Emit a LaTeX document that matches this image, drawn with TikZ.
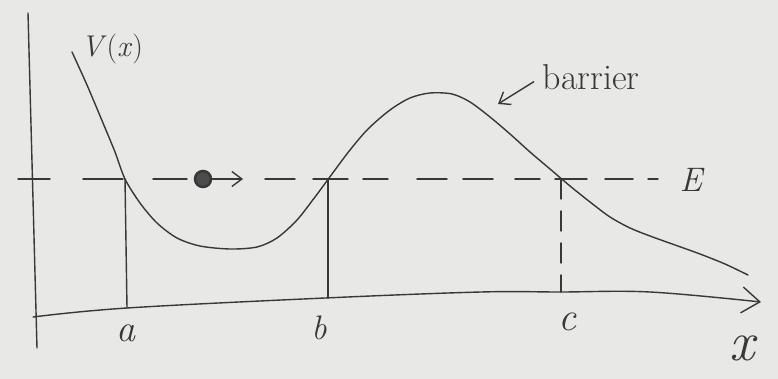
\documentclass[tikz,border=0pt]{standalone}
\usepackage{xcolor}
\usepackage{tikz}
\usepackage{amsmath}
\usetikzlibrary{
  arrows.meta,
  calc
}
\definecolor{vPaper}{HTML}{E8E8E6}
\definecolor{vInk}{HTML}{383838}
\tikzset{
  pen/.style={draw=vInk, line width=1.4pt, line cap=round, line join=round},
  axisline/.style={pen, -{Straight Barb[length=18pt, width=26pt]}},
  dropline/.style={pen, dash pattern=on 20pt off 12pt},
  ptr/.style={pen, -{Straight Barb[length=10pt, width=15pt]}},
  lbl/.style={inner sep=1pt, text=vInk},
  ball/.style={circle, draw=vInk, line width=2.5pt, fill=black!70, minimum size=16pt, inner sep=0pt}
}

\begin{document}
\begin{tikzpicture}[x=1pt, y=-1pt]
  \fill[vPaper] (0,0) rectangle (778,379);
  \useasboundingbox (0,0) rectangle (778,379);
  % axes
  \draw[pen] (28,13) -- (37,348);
  \draw[axisline] plot[smooth, tension=0.6] coordinates {(33,317) (127,308) (325,298) (481,292) (560,292) (650,292) (761,302)};
  % energy level, hand dashed
  \foreach \s/\e in {18/50, 83/123, 153/187, 265/295, 313/348, 363/388, 417/447, 463/493, 515/540, 555/587, 605/633, 648/658}
    \draw[pen] (\s,179) -- (\e,179);
  % potential curve
  \draw[pen] plot[smooth, tension=0.5] coordinates {(72,52) (87,85) (103,123) (115,152) (125,179) (140,203) (157,223) (177,238) (200,246) (230,249) (257,247) (277,238) (297,220) (315,197) (332,174) (350,150) (368,129) (390,110) (410,98) (430,93) (452,94) (470,102) (490,117) (510,134) (530,152) (550,169) (570,186) (590,202) (610,217) (630,228) (650,236) (675,245) (700,254) (725,264) (748,275)};
  % turning points
  \coordinate (aTop) at (125,179);
  \coordinate (aFoot) at (127,308);
  \coordinate (bTop) at (328,179);
  \coordinate (bFoot) at (328,298);
  \coordinate (cTop) at (561,179);
  \coordinate (cFoot) at (561,292);
  \draw[pen] (aTop) -- (aFoot);
  \draw[pen] (bTop) -- (bFoot);
  \draw[dropline] (cTop) -- (cFoot);
  % labels
  \node[lbl, font=\fontsize{30}{34}\selectfont] (vlabel) at (112,49) {\textit{V}(\textit{x})};
  \node[lbl, font=\fontsize{34}{38}\selectfont] (elabel) at (692,180) {\textit{E}};
  \node[lbl, font=\fontsize{38}{42}\selectfont] (alabel) at (126,333) {\textit{a}};
  \node[lbl, font=\fontsize{34}{38}\selectfont] (blabel) at (319,328) {\textit{b}};
  \node[lbl, font=\fontsize{40}{44}\selectfont] (clabel) at (568,322) {\textit{c}};
  \node[lbl, font=\fontsize{56}{60}\selectfont] (xlabel) at (744,348) {\textit{x}};
  % particle
  \node[ball] (ball) at (203,179) {};
  \coordinate (push) at (243,179);
  \draw[ptr] (ball) -- (push);
  % barrier
  \node[lbl, font=\fontsize{36}{40}\selectfont] (barrier) at (591,77) {barrier};
  \coordinate (bartip) at (498,104);
  \draw[ptr, shorten <=9pt] (barrier.west) -- (bartip);
\end{tikzpicture}
\end{document}
